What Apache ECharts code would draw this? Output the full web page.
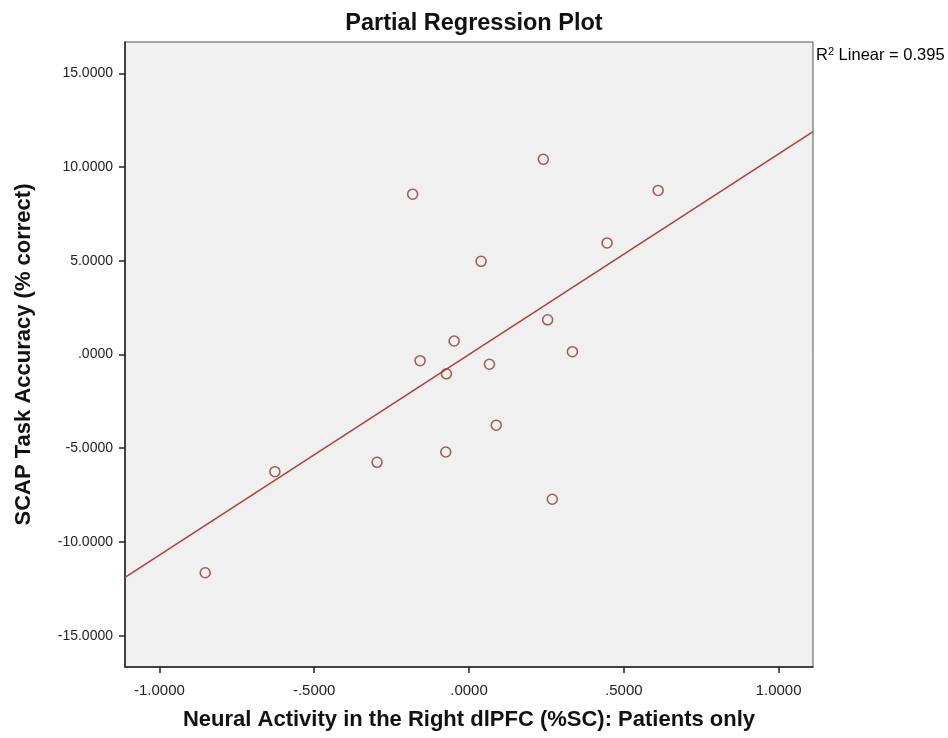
<!DOCTYPE html>
<html>
<head>
<meta charset="utf-8">
<title>Partial Regression Plot</title>
<script src="https://cdn.jsdelivr.net/npm/echarts@6/dist/echarts.min.js"></script>
<style>
  html, body { margin: 0; padding: 0; background: #ffffff; }
  #chart { width: 948px; height: 738px; }
</style>
</head>
<body>
<div id="chart"></div>
<script>
// Partial residuals: neural activity (x) vs. task accuracy (y)
const neuralActivity = [-0.852, -0.627, -0.297, -0.182, -0.158, -0.073, -0.075, -0.048,
                        0.039, 0.066, 0.088, 0.240, 0.254, 0.269, 0.334, 0.446, 0.611];
const taskAccuracy   = [-11.64, -6.25, -5.75, 8.55, -0.33, -1.03, -5.20, 0.72,
                        4.97, -0.52, -3.77, 10.41, 1.85, -7.72, 0.15, 5.95, 8.75];

// Fitted linear trend
const fitSlope = 10.7;
const fitIntercept = 0.0;
const rSquared = '0.395';

// Axis extents and tick values
const xRange = [-1.1111, 1.1111];
const yRange = [-16.667, 16.667];
const xTicks = [-1, -0.5, 0, 0.5, 1];
const yTicks = [-15, -10, -5, 0, 5, 10, 15];

// SPSS-style number format: ".5000", "-.5000", "10.0000"
function spssFormat(v) {
  let s = Number(v).toFixed(4);
  s = s.replace(/^0\./, '.').replace(/^-0\./, '-.');
  if (s === '-.0000') s = '.0000';
  return s;
}

const points = neuralActivity.map((x, i) => [x, taskAccuracy[i]]);
const fitLine = xRange.map(x => [x, fitIntercept + fitSlope * x]);

const FONT = '"Liberation Sans", Arial, sans-serif';
const chart = echarts.init(document.getElementById('chart'));

chart.setOption({
  backgroundColor: '#ffffff',
  animation: false,
  title: {
    text: 'Partial Regression Plot',
    left: 469,
    textAlign: 'center',
    top: 7,
    textStyle: { fontFamily: FONT, fontSize: 23.5, fontWeight: 'bold', color: '#111' }
  },
  grid: {
    left: 125, top: 42, width: 688, height: 625,
    show: true,
    backgroundColor: '#f0f0f0',
    borderColor: '#555',
    borderWidth: 1
  },
  xAxis: {
    type: 'value',
    min: xRange[0], max: xRange[1],
    name: 'Neural Activity in the Right dlPFC (%SC): Patients only',
    nameLocation: 'middle',
    nameGap: 42,
    nameTextStyle: { fontFamily: FONT, fontSize: 22, fontWeight: 'bold', color: '#111', verticalAlign: 'top' },
    axisLine: { onZero: false, lineStyle: { color: '#222', width: 1.5 } },
    axisTick: { show: true, length: 6, customValues: xTicks, lineStyle: { color: '#222', width: 1.5 } },
    axisLabel: {
      customValues: xTicks, formatter: spssFormat, margin: 16,
      fontFamily: FONT, fontSize: 15, color: '#222'
    },
    splitLine: { show: false }
  },
  yAxis: {
    type: 'value',
    min: yRange[0], max: yRange[1],
    name: 'SCAP Task Accuracy (% correct)',
    nameLocation: 'middle',
    nameGap: 90,
    nameTextStyle: { fontFamily: FONT, fontSize: 22, fontWeight: 'bold', color: '#111' },
    axisLine: { onZero: false, lineStyle: { color: '#222', width: 1.5 } },
    axisTick: { show: true, length: 6, customValues: yTicks, lineStyle: { color: '#222', width: 1.5 } },
    axisLabel: {
      customValues: yTicks, formatter: spssFormat, margin: 12,
      fontFamily: FONT, fontSize: 14, color: '#222'
    },
    splitLine: { show: false }
  },
  graphic: [{
    type: 'text',
    left: 816,
    top: 46,
    style: {
      text: '{r|R}{s|2}{r| Linear = ' + rSquared + '}',
      rich: {
        r: { fontFamily: FONT, fontSize: 16.5, color: '#111' },
        s: { fontFamily: FONT, fontSize: 11, color: '#111', verticalAlign: 'top', padding: [0, 0, 8, 0] }
      }
    }
  }],
  series: [
    {
      type: 'line',
      data: fitLine,
      showSymbol: false,
      symbol: 'none',
      lineStyle: { color: '#ad403c', width: 1.5 },
      z: 2
    },
    {
      type: 'scatter',
      data: points,
      symbol: 'circle',
      symbolSize: 10,
      itemStyle: { color: 'rgba(0,0,0,0)', borderColor: '#8c3b3b', borderWidth: 1.6 },
      z: 3
    }
  ]
});
</script>
</body>
</html>
